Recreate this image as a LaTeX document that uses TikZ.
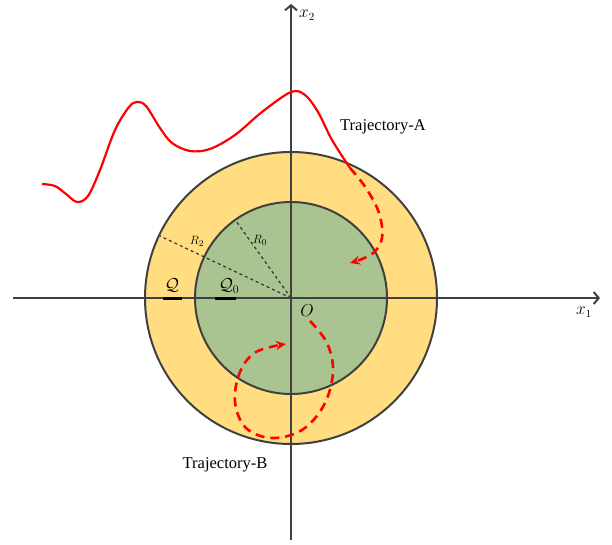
\documentclass[tikz,border=0pt]{standalone}
\usepackage{fontspec}
\setmainfont{Liberation Serif}
\usetikzlibrary{arrows.meta}

\definecolor{ringfill}{RGB}{255,221,128}
\definecolor{corefill}{RGB}{170,196,145}
\definecolor{edgegray}{RGB}{64,64,64}

\begin{document}
\begin{tikzpicture}[
    x=1pt, y=-1pt,
    axis/.style={edgegray, line width=2.2pt, -{Straight Barb[length=5pt, width=12pt, line width=2pt]}},
    rim/.style={edgegray, line width=2pt},
    radius line/.style={black!80, dashed, line width=1.2pt},
    traj/.style={red, line width=2.2pt},
    traj dash/.style={red, line width=2.6pt, dash pattern=on 9pt off 6pt},
    lbl/.style={font=\fontsize{16.5}{16.5}\selectfont},
    sym/.style={font=\fontsize{17}{17}\selectfont},
    axis sym/.style={font=\fontsize{16}{16}\selectfont},
    small sym/.style={font=\fontsize{12.5}{12.5}\selectfont}
]
\useasboundingbox (0,0) rectangle (612,545);

% Anneaux
\coordinate (O) at (291,298);
\fill[ringfill] (O) circle (146);
\draw[rim] (O) circle (146);
\fill[corefill] (O) circle (96);
\draw[rim] (O) circle (96);

% Rayons
\draw[radius line] (O) -- ++(-131,-62) coordinate (r2end);
\draw[radius line] (O) -- ++(-55,-77) coordinate (r0end);
\node[small sym] (r2lbl) at (197,241) {$R_2$};
\node[small sym] (r0lbl) at (260,240) {$R_0$};

% Axes
\coordinate (xl) at (13,298);
\coordinate (xr) at (600,298);
\coordinate (yb) at (291,540);
\coordinate (yt) at (291,4);
\draw[axis] (xl) -- (xr);
\draw[axis] (yb) -- (yt);
\node[axis sym] (x1lbl) at (584,312) {$x_1$};
\node[axis sym] (x2lbl) at (307,15) {$x_2$};
\node[sym] (olbl) at (307,311) {$O$};

% Ensembles
\node[sym] (qlbl) at (172,285) {$\mathcal{Q}$};
\node[sym] (q0lbl) at (229,286) {$\mathcal{Q}_0$};
\draw[black, line width=3pt] (163,298) -- (182,298);
\draw[black, line width=3pt] (215,298) -- (236,298);

% Trajectoire A
\draw[traj] plot[smooth, tension=0.55] coordinates {
    (42,184) (55,186) (66,194) (77,202) (88,196) (100,170) (115,130)
    (129,107) (137,102) (146,106) (160,128) (172,143) (190,151) (210,149)
    (235,135) (262,112) (291,92) (305,95) (318,112) (332,140) (350,168)};
\draw[traj dash, -{Stealth[length=10pt, width=9pt]}] plot[smooth, tension=0.6] coordinates {
    (350,168) (366,188) (379,213) (382,238) (372,254) (350,263)};
\node[lbl] (tralbl) at (383,127) {Trajectory-A};

% Trajectoire B
\draw[traj dash, -{Stealth[length=10pt, width=9pt]}] plot[smooth, tension=0.6] coordinates {
    (310,321) (327,343) (333,372) (324,405) (302,430) (272,438) (246,428)
    (235,402) (240,372) (256,352) (286,344)};
\node[lbl] (trblbl) at (225,465) {Trajectory-B};

\end{tikzpicture}
\end{document}
